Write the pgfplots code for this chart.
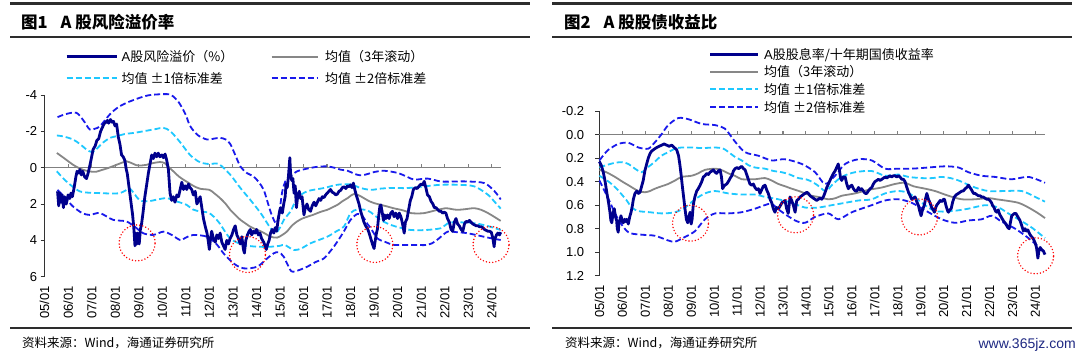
\documentclass[border=0pt]{standalone}
\usepackage{fontspec}
\setmainfont{Liberation Sans}
\newfontfamily\cjk{Noto Sans CJK SC}
\usepackage{pgfplots}
\pgfplotsset{compat=1.18}
\definecolor{navy}{RGB}{0,0,140}
\definecolor{dblue}{RGB}{25,25,235}
\definecolor{cyanl}{RGB}{30,200,255}
\definecolor{grayl}{RGB}{135,135,135}
\definecolor{rulec}{RGB}{45,45,45}
\definecolor{wm}{RGB}{30,40,130}
\newcommand\tickfont{\fontsize{13}{13}\selectfont}
\newcommand\legfont{\fontsize{13}{14}\selectfont}
\pgfplotsset{
  panel/.style={
    scale only axis, anchor=south west, clip=false,
    xmin=2005, y dir=reverse,
    axis x line*=bottom, axis y line*=left,
    x axis line style={draw=none},
    xtick={2005,...,2024},
    xticklabels={05/01,06/01,07/01,08/01,09/01,10/01,11/01,12/01,13/01,14/01,15/01,16/01,17/01,18/01,19/01,20/01,21/01,22/01,23/01,24/01},
    xtick style={draw=none},
    xticklabel style={rotate=90, anchor=east, font=\tickfont},
    xticklabel shift=6pt,
    ytick align=outside, major tick length=4pt,
    ytick style={black!80, line width=0.8pt},
    y axis line style={black!80, line width=0.8pt},
    yticklabel style={font=\tickfont},
    /pgf/number format/assume math mode=true,
  },
  mainl/.style={navy, line width=2.8pt, line join=round},
  meanl/.style={grayl, line width=1.8pt, smooth},
  s1l/.style={cyanl, line width=1.8pt, dash pattern=on 6pt off 3pt, smooth},
  s2l/.style={dblue, line width=1.8pt, dash pattern=on 6pt off 3pt, smooth},
  zerol/.style={black!50, line width=1.1pt},
  circ/.style={only marks, mark=o, mark size=18pt, mark options={draw=red, line width=1.6pt, dash pattern=on 0pt off 3.2pt, line cap=round, fill=none}},
}
\begin{document}
\begin{tikzpicture}
\path[use as bounding box] (0,0) rectangle (1080pt,355pt);
% ---------- rules, titles, sources ----------
\draw[rulec, line width=3pt] (10pt,351.5pt) -- (530pt,351.5pt);
\draw[rulec, line width=1.8pt] (10pt,318pt) -- (530pt,318pt);
\draw[rulec, line width=1.8pt] (10pt,27pt) -- (530pt,27pt);
\draw[rulec, line width=3pt] (552pt,351.5pt) -- (1072pt,351.5pt);
\draw[rulec, line width=1.8pt] (552pt,318pt) -- (1072pt,318pt);
\draw[rulec, line width=1.8pt] (552pt,27pt) -- (1072pt,27pt);
\node[anchor=west, inner sep=0pt] at (21pt,333pt) {\cjk\bfseries\fontsize{16.5}{17}\selectfont 图1\hspace{13pt}A 股风险溢价率};
\node[anchor=west, inner sep=0pt] at (564pt,333pt) {\cjk\bfseries\fontsize{16.5}{17}\selectfont 图2\hspace{13pt}A 股股债收益比};
\node[anchor=west, inner sep=0pt] at (22pt,12pt) {\cjk\fontsize{12.5}{13}\selectfont 资料来源：Wind，海通证券研究所};
\node[anchor=west, inner sep=0pt] at (565pt,12pt) {\cjk\fontsize{12.5}{13}\selectfont 资料来源：Wind，海通证券研究所};
\node[anchor=south east, inner sep=0pt, text=wm] at (1076pt,3pt) {\fontsize{14}{14}\selectfont www.365jz.com};
% ---------- legends ----------
\draw[navy, line width=3pt] (66.7pt,298.3pt) -- (116.7pt,298.3pt);
\node[anchor=west, inner sep=0pt] at (121.5pt,298.3pt) {\legfont A\cjk 股风险溢价（\%）};
\draw[grayl, line width=1.8pt] (271.7pt,298.3pt) -- (318.3pt,298.3pt);
\node[anchor=west, inner sep=0pt] at (325pt,298.3pt) {\legfont\cjk 均值（3年滚动）};
\draw[cyanl, line width=1.8pt, dash pattern=on 6pt off 3pt] (66.7pt,276.7pt) -- (116.7pt,276.7pt);
\node[anchor=west, inner sep=0pt] at (121.5pt,276.7pt) {\legfont\cjk 均值 ±1倍标准差};
\draw[dblue, line width=1.8pt, dash pattern=on 6pt off 3pt] (271.7pt,276.7pt) -- (318.3pt,276.7pt);
\node[anchor=west, inner sep=0pt] at (325pt,276.7pt) {\legfont\cjk 均值 ±2倍标准差};
\draw[navy, line width=3pt] (710pt,300pt) -- (758.3pt,300pt);
\node[anchor=west, inner sep=0pt] at (764pt,300pt) {\legfont A\cjk 股股息率/十年期国债收益率};
\draw[grayl, line width=1.8pt] (710pt,283.3pt) -- (758.3pt,283.3pt);
\node[anchor=west, inner sep=0pt] at (764pt,283.3pt) {\legfont\cjk 均值（3年滚动）};
\draw[cyanl, line width=1.8pt, dash pattern=on 6pt off 3pt] (710pt,265.7pt) -- (758.3pt,265.7pt);
\node[anchor=west, inner sep=0pt] at (764pt,265.7pt) {\legfont\cjk 均值 ±1倍标准差};
\draw[dblue, line width=1.8pt, dash pattern=on 6pt off 3pt] (710pt,247.7pt) -- (758.3pt,247.7pt);
\node[anchor=west, inner sep=0pt] at (764pt,247.7pt) {\legfont\cjk 均值 ±2倍标准差};
% ================= LEFT PANEL =================
\begin{axis}[panel, at={(44.6pt,78.3pt)}, width=456.1pt, height=181.7pt,
  xmax=2024.38, ymin=-4, ymax=6, ytick={-4,-2,0,2,4,6},
  yticklabels={{-4\hspace{8pt}},{-2\hspace{8pt}},0,2,4,6}]
\addplot[zerol] coordinates {(2005,0) (2024.38,0)};
\addplot[zerol, ycomb] coordinates {(2006,-0.22) (2007,-0.22) (2008,-0.22) (2009,-0.22) (2010,-0.22) (2011,-0.22) (2012,-0.22) (2013,-0.22) (2014,-0.22) (2015,-0.22) (2016,-0.22) (2017,-0.22) (2018,-0.22) (2019,-0.22) (2020,-0.22) (2021,-0.22) (2022,-0.22) (2023,-0.22) (2024,-0.22)};
% +2 sd (upper)
\addplot[s2l] table {
2005.55 -2.78
2005.9 -2.95
2006.35 -3.02
2006.65 -2.6
2006.92 -2.1
2007.15 -2.15
2007.35 -2.28
2007.77 -2.93
2008.1 -3.3
2008.48 -3.57
2009.05 -3.85
2009.4 -3.98
2009.76 -4.03
2010.33 -4.03
2010.6 -3.75
2010.76 -3.48
2011.0 -2.9
2011.18 -2.3
2011.5 -1.8
2011.9 -1.55
2012.2 -1.6
2012.46 -1.64
2012.7 -1.55
2012.89 -1.3
2013.1 -0.7
2013.32 -0.07
2013.6 0.3
2013.88 0.48
2014.1 0.8
2014.31 1.22
2014.5 2.0
2014.65 2.6
2014.85 3.06
2015.0 2.2
2015.1 1.3
2015.25 0.7
2015.45 0.45
2015.73 0.2
2016.16 0.05
2016.6 -0.05
2017.0 -0.07
2017.3 0.0
2017.58 0.11
2017.87 0.17
2018.1 0.3
2018.29 0.39
2018.5 0.42
2018.8 0.32
2019.0 0.24
2019.43 0.17
2020.0 0.29
2020.4 0.5
2020.71 0.66
2021.27 0.6
2021.84 0.76
2022.41 0.76
2022.98 0.76
2023.69 0.85
2024.12 1.3
2024.38 1.75
};
% -2 sd (lower)
\addplot[s2l] table {
2005.55 1.22
2005.9 1.7
2006.21 2.14
2006.6 2.5
2006.92 2.6
2007.35 2.5
2007.91 2.87
2008.48 2.96
2008.91 3.33
2009.19 3.61
2009.62 3.7
2010.05 3.52
2010.4 3.7
2010.76 3.98
2011.0 3.85
2011.32 3.7
2011.9 3.8
2012.3 4.2
2012.6 4.71
2013.03 5.27
2013.46 5.54
2014.03 5.45
2014.46 4.99
2014.74 4.71
2014.95 4.65
2015.16 4.9
2015.35 5.4
2015.55 5.73
2016.16 5.45
2016.5 5.2
2016.87 4.99
2017.2 4.5
2017.44 4.07
2017.72 3.5
2018.0 2.87
2018.29 2.55
2018.5 2.65
2018.72 3.1
2018.86 3.33
2019.14 3.89
2019.5 4.1
2019.85 4.25
2020.57 4.25
2021.27 4.25
2021.6 4.05
2021.84 3.8
2022.13 3.52
2022.5 3.55
2022.98 3.61
2023.84 3.85
2024.38 3.98
};
% +1 sd (upper)
\addplot[s1l] table {
2005.52 -1.77
2005.8 -1.72
2006.21 -1.55
2006.5 -1.3
2006.78 -1.0
2006.95 -0.88
2007.1 -0.9
2007.3 -1.15
2007.5 -1.4
2007.8 -1.65
2008.06 -1.73
2008.4 -1.85
2008.77 -1.91
2009.1 -1.98
2009.4 -2.05
2009.7 -2.12
2010.05 -2.19
2010.35 -2.0
2010.76 -1.4
2011.18 -0.7
2011.6 -0.3
2012.0 -0.2
2012.4 -0.2
2012.89 0.39
2013.32 1.12
2013.74 1.77
2014.18 2.5
2014.6 3.33
2014.81 3.6
2015.0 3.3
2015.2 2.8
2015.45 2.41
2015.73 1.68
2016.16 1.3
2016.87 1.12
2017.44 0.94
2018.0 0.92
2018.43 1.12
2018.86 1.22
2019.3 1.15
2019.71 1.12
2020.43 1.12
2021.13 1.03
2021.84 0.94
2022.55 0.94
2023.26 1.03
2023.84 1.49
2024.1 1.85
2024.38 2.25
};
% -1 sd (lower)
\addplot[s1l] table {
2005.52 0.2
2005.8 0.6
2006.1 0.95
2006.49 1.3
2006.9 1.38
2007.35 1.4
2007.8 1.42
2008.2 1.4
2008.45 1.25
2008.62 1.15
2008.85 1.5
2009.05 1.8
2009.4 1.85
2009.8 1.75
2010.19 1.68
2010.6 1.85
2011.04 2.05
2011.3 2.3
2011.61 2.41
2012.0 2.5
2012.4 3.0
2012.89 3.9
2013.46 4.25
2014.03 4.35
2014.6 4.35
2015.0 4.3
2015.2 4.25
2015.59 4.53
2015.9 4.45
2016.3 4.16
2017.01 3.8
2017.4 3.5
2017.72 3.24
2018.0 2.5
2018.3 2.3
2018.72 2.35
2019.0 2.6
2019.3 2.9
2019.71 3.15
2020.1 3.3
2020.57 3.43
2021.2 3.43
2021.84 3.33
2022.13 3.06
2022.5 3.0
2023.26 3.06
2023.8 3.2
2024.38 3.43
};
% mean
\addplot[meanl] table {
2005.52 -0.81
2005.8 -0.55
2006.21 -0.16
2006.5 0.05
2006.78 0.17
2007.0 0.22
2007.2 0.22
2007.45 0.12
2007.7 0.02
2008.06 -0.16
2008.3 -0.28
2008.48 -0.35
2008.7 -0.25
2008.91 -0.13
2009.1 -0.12
2009.34 -0.16
2009.6 -0.25
2009.9 -0.31
2010.1 -0.25
2010.3 0.0
2010.47 0.2
2010.7 0.48
2010.9 0.66
2011.1 0.82
2011.32 1.0
2011.61 1.16
2012.0 1.22
2012.2 1.4
2012.46 1.68
2012.7 2.0
2012.89 2.32
2013.1 2.6
2013.32 2.87
2013.55 3.08
2013.74 3.25
2013.95 3.38
2014.18 3.5
2014.4 3.65
2014.6 3.8
2014.88 3.85
2015.1 3.7
2015.31 3.5
2015.5 3.2
2015.73 2.96
2015.95 2.8
2016.16 2.7
2016.4 2.6
2016.59 2.5
2016.8 2.4
2017.01 2.32
2017.2 2.2
2017.44 2.05
2017.65 1.85
2017.87 1.68
2018.0 1.55
2018.15 1.45
2018.35 1.52
2018.57 1.68
2018.8 1.85
2019.0 1.95
2019.3 2.05
2019.57 2.14
2019.85 2.24
2020.14 2.32
2020.4 2.42
2020.57 2.5
2020.85 2.52
2021.13 2.5
2021.4 2.42
2021.7 2.32
2022.06 2.23
2022.3 2.28
2022.55 2.32
2022.9 2.28
2023.26 2.23
2023.55 2.32
2023.84 2.5
2024.1 2.7
2024.38 2.93
};
% A-share risk premium
\addplot[mainl] table {
2005.55 1.3
2005.60 2.1
2005.65 1.4
2005.70 1.9
2005.75 1.5
2005.80 2.2
2005.85 1.6
2005.92 2.0
2006.00 1.5
2006.07 1.7
2006.12 1.4
2006.18 1.6
2006.24 1.2
2006.28 0.9
2006.33 0.5
2006.38 0.2
2006.45 0.3
2006.50 0.1
2006.56 0.4
2006.62 0.2
2006.70 0.5
2006.78 0.6
2006.85 0.3
2006.92 -0.1
2007.00 -0.6
2007.06 -1.0
2007.15 -1.2
2007.22 -1.5
2007.30 -1.6
2007.38 -2.0
2007.45 -2.2
2007.52 -2.4
2007.60 -2.5
2007.67 -2.6
2007.72 -2.45
2007.80 -2.65
2007.87 -2.5
2007.93 -2.55
2007.99 -2.3
2008.06 -2.4
2008.13 -1.7
2008.20 -1.3
2008.27 -0.7
2008.34 -0.6
2008.41 -0.4
2008.47 0.1
2008.51 0.3
2008.57 0.9
2008.62 1.4
2008.68 2.0
2008.74 2.6
2008.79 3.3
2008.84 4.3
2008.88 3.6
2008.92 4.2
2008.96 3.6
2009.02 4.2
2009.07 3.4
2009.12 3.1
2009.18 2.5
2009.26 1.6
2009.33 1.0
2009.41 0.3
2009.48 -0.2
2009.55 -0.7
2009.62 -0.5
2009.69 -0.8
2009.76 -0.6
2009.83 -0.8
2009.90 -0.6
2009.98 -0.7
2010.05 -0.55
2010.12 -0.75
2010.19 -0.4
2010.26 0.1
2010.33 1.4
2010.40 1.8
2010.47 1.6
2010.54 1.9
2010.62 1.5
2010.69 1.6
2010.76 1.2
2010.83 0.8
2010.90 1.2
2010.97 1.0
2011.04 1.2
2011.11 0.9
2011.18 1.1
2011.25 1.2
2011.32 1.5
2011.40 1.3
2011.47 2.0
2011.54 1.8
2011.61 1.6
2011.68 2.2
2011.75 2.8
2011.82 3.2
2011.90 3.6
2011.95 4.0
2012.00 4.5
2012.05 3.9
2012.10 3.5
2012.17 3.9
2012.25 4.1
2012.32 3.7
2012.39 3.9
2012.46 3.6
2012.53 4.1
2012.60 4.3
2012.67 4.5
2012.74 4.0
2012.81 4.2
2012.88 3.9
2012.96 3.7
2013.03 3.4
2013.10 3.2
2013.17 3.7
2013.24 3.9
2013.31 4.2
2013.38 3.8
2013.45 4.5
2013.49 4.7
2013.55 4.0
2013.62 3.7
2013.69 3.5
2013.74 3.4
2013.80 3.7
2013.87 3.5
2013.94 3.6
2014.01 3.4
2014.08 3.7
2014.15 3.6
2014.22 3.9
2014.31 4.1
2014.37 4.3
2014.42 4.5
2014.48 4.2
2014.54 4.0
2014.60 3.6
2014.67 3.4
2014.74 3.6
2014.80 3.3
2014.86 3.5
2014.91 3.0
2014.97 2.5
2015.03 2.2
2015.10 2.5
2015.16 2.0
2015.22 1.6
2015.26 0.9
2015.31 1.1
2015.36 0.5
2015.40 -0.2
2015.42 -0.55
2015.45 0.3
2015.50 0.7
2015.55 0.6
2015.60 1.4
2015.65 1.0
2015.70 2.2
2015.76 1.5
2015.82 1.3
2015.88 1.7
2015.94 1.6
2016.02 2.6
2016.08 2.2
2016.15 2.0
2016.22 2.3
2016.30 2.4
2016.37 2.1
2016.45 1.9
2016.52 2.1
2016.59 1.9
2016.66 1.7
2016.73 1.8
2016.80 1.6
2016.87 1.65
2016.94 1.5
2017.01 1.4
2017.08 1.3
2017.15 1.2
2017.22 1.35
2017.30 1.4
2017.37 1.5
2017.44 1.45
2017.51 1.3
2017.58 1.25
2017.65 1.1
2017.72 1.05
2017.80 1.15
2017.87 1.0
2017.94 1.05
2018.00 0.95
2018.06 1.1
2018.12 0.85
2018.18 1.2
2018.24 1.5
2018.29 1.7
2018.36 2.0
2018.43 2.4
2018.50 2.7
2018.57 3.0
2018.64 3.2
2018.72 3.35
2018.79 3.6
2018.86 3.9
2018.93 4.2
2019.00 4.45
2019.05 4.0
2019.10 3.6
2019.14 3.4
2019.20 2.6
2019.25 2.1
2019.29 2.05
2019.35 2.5
2019.40 2.9
2019.45 2.6
2019.50 2.8
2019.57 2.6
2019.64 2.8
2019.71 2.5
2019.78 2.4
2019.85 2.7
2019.92 2.5
2020.00 2.8
2020.07 2.5
2020.14 2.7
2020.21 3.1
2020.28 3.6
2020.33 3.0
2020.40 2.8
2020.47 2.3
2020.54 1.8
2020.60 1.6
2020.67 1.2
2020.75 1.1
2020.83 1.15
2020.92 1.0
2021.00 0.9
2021.07 0.95
2021.13 0.75
2021.20 1.1
2021.27 1.5
2021.35 1.6
2021.42 1.85
2021.50 2.0
2021.56 2.2
2021.63 2.2
2021.70 2.3
2021.77 2.4
2021.84 2.4
2021.91 2.5
2021.98 2.45
2022.05 2.5
2022.12 2.8
2022.20 3.0
2022.27 3.4
2022.34 3.5
2022.41 3.0
2022.48 2.8
2022.55 3.1
2022.62 3.2
2022.70 3.4
2022.77 3.5
2022.84 3.1
2022.91 2.95
2022.98 3.0
2023.05 2.9
2023.12 3.0
2023.20 3.1
2023.27 3.15
2023.34 3.2
2023.41 3.2
2023.48 3.25
2023.55 3.25
2023.62 3.3
2023.69 3.4
2023.76 3.45
2023.84 3.5
2023.91 3.5
2023.98 3.55
2024.05 3.9
2024.10 4.35
2024.14 3.9
2024.20 3.7
2024.26 3.6
2024.33 3.7
2024.38 3.55
};
\addplot[circ] coordinates {(2008.93,4.14) (2013.62,4.78) (2019.03,4.23) (2023.97,4.23)};
\end{axis}
% ================= RIGHT PANEL =================
\begin{axis}[panel, at={(599.4pt,79.2pt)}, width=445.6pt, height=164.8pt,
  xmax=2024.42, ymin=-0.2, ymax=1.2, ytick={-0.2,0,...,1.2},
  yticklabel style={/pgf/number format/.cd, fixed, fixed zerofill, precision=1},
  yticklabel shift=7.7pt]
\addplot[zerol] coordinates {(2005,0) (2024.42,0)};
\addplot[zerol, ycomb] coordinates {(2006,-0.034) (2007,-0.034) (2008,-0.034) (2009,-0.034) (2010,-0.034) (2011,-0.034) (2012,-0.034) (2013,-0.034) (2014,-0.034) (2015,-0.034) (2016,-0.034) (2017,-0.034) (2018,-0.034) (2019,-0.034) (2020,-0.034) (2021,-0.034) (2022,-0.034) (2023,-0.034) (2024,-0.034)};
\addplot[s2l] table {
2005.0 0.22
2005.2 0.17
2005.39 0.13
2005.82 0.08
2006.26 0.07
2006.7 0.11
2007.13 0.12
2007.4 0.07
2007.7 0.0
2008.0 -0.08
2008.44 -0.14
2008.88 -0.13
2009.46 -0.09
2010.04 -0.08
2010.47 -0.05
2010.91 0.06
2011.35 0.15
2011.93 0.18
2012.51 0.22
2013.09 0.21
2013.82 0.25
2014.4 0.32
2014.83 0.42
2015.27 0.35
2015.71 0.25
2016.29 0.21
2016.87 0.22
2017.45 0.29
2018.03 0.29
2018.61 0.29
2019.34 0.28
2020.07 0.27
2020.65 0.28
2021.08 0.32
2021.66 0.35
2022.24 0.36
2022.97 0.38
2023.7 0.36
2024.42 0.41
};
\addplot[s2l] table {
2005.0 0.39
2005.4 0.55
2005.82 0.72
2006.26 0.83
2006.8 0.85
2007.42 0.86
2008.0 0.90
2008.3 0.91
2008.73 0.87
2009.17 0.82
2009.6 0.72
2010.04 0.67
2010.6 0.67
2011.2 0.66
2011.78 0.63
2012.2 0.60
2012.51 0.59
2012.9 0.65
2013.53 0.73
2013.96 0.75
2014.4 0.70
2014.98 0.67
2015.41 0.72
2016.0 0.66
2016.87 0.60
2017.45 0.56
2018.03 0.55
2018.61 0.58
2019.34 0.66
2019.92 0.72
2020.5 0.75
2021.08 0.73
2021.66 0.72
2022.1 0.69
2022.53 0.74
2023.12 0.80
2023.7 0.88
2024.42 1.00
};
\addplot[s1l] table {
2005.0 0.28
2005.3 0.26
2005.68 0.24
2006.0 0.235
2006.26 0.25
2006.55 0.29
2006.84 0.32
2007.1 0.28
2007.42 0.23
2007.7 0.18
2008.0 0.15
2008.3 0.12
2008.59 0.11
2009.0 0.11
2009.5 0.115
2010.04 0.11
2010.4 0.12
2010.7 0.16
2010.91 0.19
2011.2 0.22
2011.49 0.26
2011.78 0.28
2012.22 0.29
2012.6 0.31
2012.95 0.32
2013.3 0.34
2013.67 0.37
2014.0 0.38
2014.25 0.4
2014.5 0.43
2014.83 0.48
2015.0 0.46
2015.13 0.43
2015.56 0.36
2016.14 0.32
2016.87 0.31
2017.45 0.35
2018.03 0.34
2018.47 0.36
2019.05 0.37
2019.5 0.37
2019.92 0.36
2020.3 0.37
2020.65 0.39
2021.0 0.42
2021.37 0.45
2021.95 0.48
2022.68 0.48
2023.41 0.48
2023.99 0.53
2024.42 0.57
};
\addplot[s1l] table {
2005.0 0.35
2005.4 0.40
2005.75 0.46
2006.19 0.56
2006.41 0.62
2006.7 0.65
2007.2 0.66
2007.72 0.67
2008.3 0.66
2008.73 0.62
2009.17 0.55
2009.6 0.50
2010.04 0.48
2010.62 0.50
2011.2 0.51
2011.78 0.51
2012.22 0.53
2012.8 0.55
2013.38 0.58
2013.96 0.62
2014.54 0.62
2015.13 0.60
2015.71 0.58
2016.3 0.56
2016.87 0.55
2017.45 0.50
2018.03 0.48
2018.5 0.50
2019.05 0.58
2019.63 0.65
2020.36 0.65
2021.08 0.63
2021.81 0.60
2022.39 0.62
2022.82 0.67
2023.26 0.72
2023.84 0.79
2024.42 0.88
};
\addplot[meanl] table {
2005.0 0.30
2005.3 0.32
2005.68 0.36
2006.0 0.40
2006.26 0.43
2006.7 0.48
2006.99 0.49
2007.2 0.48
2007.42 0.46
2007.7 0.44
2008.0 0.42
2008.3 0.39
2008.59 0.36
2009.02 0.35
2009.3 0.33
2009.6 0.30
2010.04 0.29
2010.3 0.30
2010.62 0.33
2010.9 0.35
2011.2 0.38
2011.5 0.38
2011.78 0.38
2012.22 0.37
2012.5 0.39
2012.8 0.42
2013.1 0.44
2013.38 0.46
2013.7 0.48
2013.96 0.50
2014.25 0.52
2014.54 0.53
2014.98 0.55
2015.3 0.54
2015.56 0.52
2016.14 0.50
2016.72 0.47
2017.31 0.45
2017.88 0.42
2018.3 0.41
2018.7 0.44
2019.2 0.46
2019.63 0.48
2020.21 0.52
2020.79 0.55
2021.37 0.55
2021.95 0.54
2022.3 0.55
2022.68 0.56
2023.26 0.58
2023.7 0.62
2024.13 0.67
2024.42 0.71
};
\addplot[mainl] table {
2005.00 0.23
2005.08 0.26
2005.17 0.32
2005.25 0.40
2005.32 0.49
2005.40 0.58
2005.46 0.66
2005.50 0.73
2005.54 0.75
2005.60 0.66
2005.65 0.63
2005.70 0.70
2005.75 0.73
2005.78 0.80
2005.82 0.83
2005.86 0.74
2005.90 0.72
2005.94 0.69
2006.00 0.74
2006.04 0.75
2006.10 0.72
2006.15 0.74
2006.19 0.72
2006.26 0.76
2006.32 0.70
2006.38 0.66
2006.44 0.60
2006.48 0.55
2006.55 0.50
2006.63 0.48
2006.70 0.50
2006.77 0.49
2006.84 0.44
2006.91 0.39
2006.98 0.31
2007.06 0.25
2007.13 0.20
2007.21 0.16
2007.28 0.14
2007.35 0.13
2007.42 0.12
2007.50 0.11
2007.60 0.10
2007.72 0.09
2007.82 0.08
2007.93 0.09
2008.04 0.10
2008.15 0.09
2008.26 0.11
2008.37 0.13
2008.45 0.18
2008.51 0.26
2008.56 0.34
2008.61 0.43
2008.67 0.53
2008.73 0.63
2008.79 0.72
2008.85 0.75
2008.90 0.70
2008.95 0.66
2009.00 0.76
2009.04 0.72
2009.09 0.60
2009.16 0.53
2009.24 0.48
2009.31 0.46
2009.39 0.43
2009.46 0.40
2009.53 0.36
2009.60 0.35
2009.68 0.33
2009.75 0.34
2009.82 0.32
2009.90 0.31
2009.97 0.30
2010.04 0.32
2010.11 0.33
2010.18 0.31
2010.26 0.30
2010.32 0.36
2010.37 0.46
2010.42 0.44
2010.47 0.43
2010.55 0.42
2010.62 0.40
2010.70 0.37
2010.77 0.35
2010.84 0.31
2010.91 0.29
2011.00 0.28
2011.07 0.29
2011.13 0.28
2011.20 0.27
2011.28 0.29
2011.35 0.30
2011.42 0.34
2011.49 0.38
2011.56 0.42
2011.64 0.43
2011.71 0.42
2011.78 0.45
2011.86 0.47
2011.93 0.46
2012.00 0.50
2012.07 0.47
2012.14 0.44
2012.22 0.43
2012.29 0.47
2012.36 0.50
2012.44 0.55
2012.51 0.58
2012.58 0.63
2012.65 0.66
2012.72 0.62
2012.80 0.63
2012.87 0.61
2012.95 0.58
2013.02 0.57
2013.09 0.56
2013.16 0.63
2013.23 0.67
2013.31 0.53
2013.38 0.56
2013.45 0.60
2013.53 0.66
2013.60 0.56
2013.67 0.55
2013.75 0.53
2013.82 0.52
2013.89 0.51
2013.96 0.50
2014.04 0.49
2014.11 0.50
2014.18 0.52
2014.25 0.53
2014.32 0.54
2014.40 0.55
2014.47 0.56
2014.54 0.55
2014.62 0.54
2014.69 0.55
2014.76 0.53
2014.84 0.49
2014.91 0.45
2014.98 0.42
2015.05 0.39
2015.12 0.36
2015.20 0.33
2015.27 0.31
2015.34 0.28
2015.41 0.25
2015.46 0.30
2015.51 0.37
2015.56 0.39
2015.63 0.36
2015.71 0.36
2015.78 0.42
2015.85 0.46
2015.93 0.44
2016.00 0.43
2016.07 0.46
2016.15 0.48
2016.22 0.48
2016.29 0.45
2016.36 0.47
2016.43 0.46
2016.50 0.48
2016.58 0.50
2016.65 0.50
2016.72 0.48
2016.80 0.46
2016.87 0.45
2016.94 0.42
2017.01 0.40
2017.09 0.39
2017.16 0.38
2017.23 0.39
2017.31 0.38
2017.38 0.37
2017.45 0.36
2017.52 0.37
2017.59 0.36
2017.66 0.35
2017.74 0.36
2017.81 0.35
2017.88 0.35
2017.96 0.36
2018.03 0.35
2018.10 0.36
2018.18 0.38
2018.25 0.38
2018.32 0.40
2018.40 0.45
2018.47 0.49
2018.54 0.52
2018.61 0.55
2018.68 0.54
2018.76 0.53
2018.83 0.57
2018.90 0.60
2018.96 0.65
2019.02 0.69
2019.08 0.64
2019.16 0.60
2019.22 0.54
2019.27 0.50
2019.34 0.55
2019.41 0.58
2019.48 0.62
2019.55 0.64
2019.60 0.66
2019.66 0.62
2019.70 0.60
2019.78 0.58
2019.85 0.56
2019.92 0.57
2020.00 0.55
2020.04 0.55
2020.10 0.60
2020.16 0.64
2020.21 0.66
2020.27 0.64
2020.33 0.63
2020.40 0.57
2020.47 0.53
2020.56 0.51
2020.65 0.50
2020.72 0.49
2020.80 0.48
2020.86 0.48
2020.94 0.46
2021.01 0.45
2021.08 0.43
2021.15 0.45
2021.22 0.47
2021.30 0.50
2021.37 0.50
2021.44 0.51
2021.52 0.52
2021.59 0.52
2021.66 0.53
2021.73 0.53
2021.80 0.54
2021.88 0.55
2021.95 0.55
2022.02 0.56
2022.09 0.58
2022.13 0.60
2022.20 0.62
2022.26 0.65
2022.32 0.66
2022.38 0.64
2022.45 0.68
2022.51 0.70
2022.57 0.72
2022.63 0.74
2022.68 0.75
2022.74 0.77
2022.80 0.79
2022.86 0.80
2022.92 0.74
2022.97 0.69
2023.03 0.68
2023.09 0.67
2023.15 0.67
2023.21 0.69
2023.27 0.71
2023.33 0.73
2023.40 0.77
2023.48 0.82
2023.55 0.80
2023.61 0.82
2023.67 0.81
2023.74 0.84
2023.80 0.86
2023.85 0.87
2023.92 0.89
2023.99 0.92
2024.05 0.96
2024.11 1.05
2024.16 0.98
2024.21 0.96
2024.28 0.98
2024.35 0.99
2024.42 1.02
};
\addplot[circ] coordinates {(2008.97,0.753) (2013.55,0.682) (2018.95,0.70) (2024.01,1.03)};
\end{axis}
\end{tikzpicture}
\end{document}
